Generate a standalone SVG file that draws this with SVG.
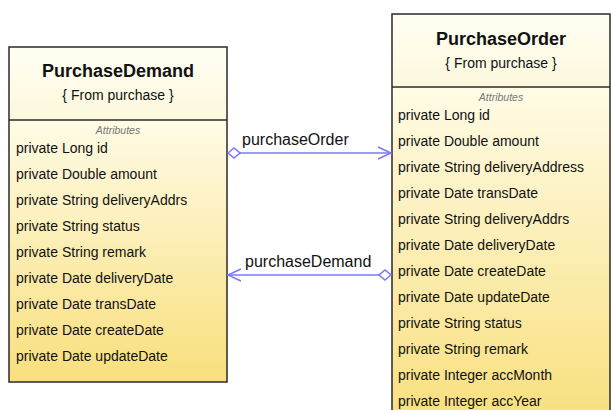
<svg xmlns="http://www.w3.org/2000/svg" width="611" height="410" viewBox="0 0 611 410">
<defs>
<linearGradient id="hdr" x1="0" y1="0" x2="0" y2="1">
<stop offset="0" stop-color="#FFFEF4"/>
<stop offset="1" stop-color="#FDF8DC"/>
</linearGradient>
<linearGradient id="attr" x1="0" y1="0" x2="0" y2="1">
<stop offset="0" stop-color="#FFFBE6"/>
<stop offset="1" stop-color="#F8DF7C"/>
</linearGradient>
<marker id="arrow" markerWidth="16" markerHeight="14" refX="14" refY="7" orient="auto" markerUnits="userSpaceOnUse">
<path d="M1,1 L14,7 L1,13" fill="none" stroke="#7878FF" stroke-width="1.5"/>
</marker>
<marker id="diamond" markerWidth="14" markerHeight="12" refX="1" refY="6" orient="auto" markerUnits="userSpaceOnUse">
<path d="M1,6 L7,1 L13,6 L7,11 Z" fill="#FFFFFF" stroke="#7878FF" stroke-width="1.5"/>
</marker>
</defs>
<style>
.box{stroke:#2A2A2A;stroke-width:1.5}
.title{font-family:"Liberation Sans",Arial,sans-serif;font-size:18px;font-weight:bold;fill:#111;text-anchor:middle}
.sub{font-family:"Liberation Sans",Arial,sans-serif;font-size:14px;fill:#111;text-anchor:middle}
.attrh{font-family:"Liberation Sans",Arial,sans-serif;font-size:10.5px;font-style:italic;fill:#777;text-anchor:middle}
.row{font-family:"Liberation Sans",Arial,sans-serif;font-size:14px;fill:#111}
.lbl{font-family:"Liberation Sans",Arial,sans-serif;font-size:16px;fill:#111}
.conn{stroke:#7878FF;stroke-width:1.5;fill:none}
</style>
<rect width="611" height="410" fill="#FFFFFF"/>
<g id="PurchaseDemand">
<rect x="9" y="47" width="218" height="73" fill="url(#hdr)"/>
<rect x="9" y="120" width="218" height="262" fill="url(#attr)"/>
<rect class="box" x="9" y="47" width="218" height="335" fill="none"/>
<line class="box" x1="9" y1="120" x2="227" y2="120"/>
<text class="title" x="118" y="77">PurchaseDemand</text>
<text class="sub" x="118" y="100">{ From purchase }</text>
<text class="attrh" x="118" y="134">Attributes</text>
<text class="row" x="16" y="153">private Long id</text>
<text class="row" x="16" y="179">private Double amount</text>
<text class="row" x="16" y="205">private String deliveryAddrs</text>
<text class="row" x="16" y="231">private String status</text>
<text class="row" x="16" y="257">private String remark</text>
<text class="row" x="16" y="283">private Date deliveryDate</text>
<text class="row" x="16" y="309">private Date transDate</text>
<text class="row" x="16" y="335">private Date createDate</text>
<text class="row" x="16" y="361">private Date updateDate</text>
</g>
<g id="PurchaseOrder">
<rect x="392" y="14" width="218" height="73" fill="url(#hdr)"/>
<rect x="392" y="87" width="218" height="340" fill="url(#attr)"/>
<rect class="box" x="392" y="14" width="218" height="413" fill="none"/>
<line class="box" x1="392" y1="87" x2="610" y2="87"/>
<text class="title" x="501" y="45">PurchaseOrder</text>
<text class="sub" x="501" y="68">{ From purchase }</text>
<text class="attrh" x="501" y="101">Attributes</text>
<text class="row" x="398" y="120">private Long id</text>
<text class="row" x="398" y="146">private Double amount</text>
<text class="row" x="398" y="172">private String deliveryAddress</text>
<text class="row" x="398" y="198">private Date transDate</text>
<text class="row" x="398" y="224">private String deliveryAddrs</text>
<text class="row" x="398" y="250">private Date deliveryDate</text>
<text class="row" x="398" y="276">private Date createDate</text>
<text class="row" x="398" y="302">private Date updateDate</text>
<text class="row" x="398" y="328">private String status</text>
<text class="row" x="398" y="354">private String remark</text>
<text class="row" x="398" y="380">private Integer accMonth</text>
<text class="row" x="398" y="406">private Integer accYear</text>
</g>
<g id="connectors">
<path class="conn" d="M228,153 L391,153" marker-start="url(#diamond)" marker-end="url(#arrow)"/>
<text class="lbl" x="242" y="145">purchaseOrder</text>
<path class="conn" d="M391,275 L228,275" marker-start="url(#diamond)" marker-end="url(#arrow)"/>
<text class="lbl" x="245" y="267">purchaseDemand</text>
</g>
</svg>
